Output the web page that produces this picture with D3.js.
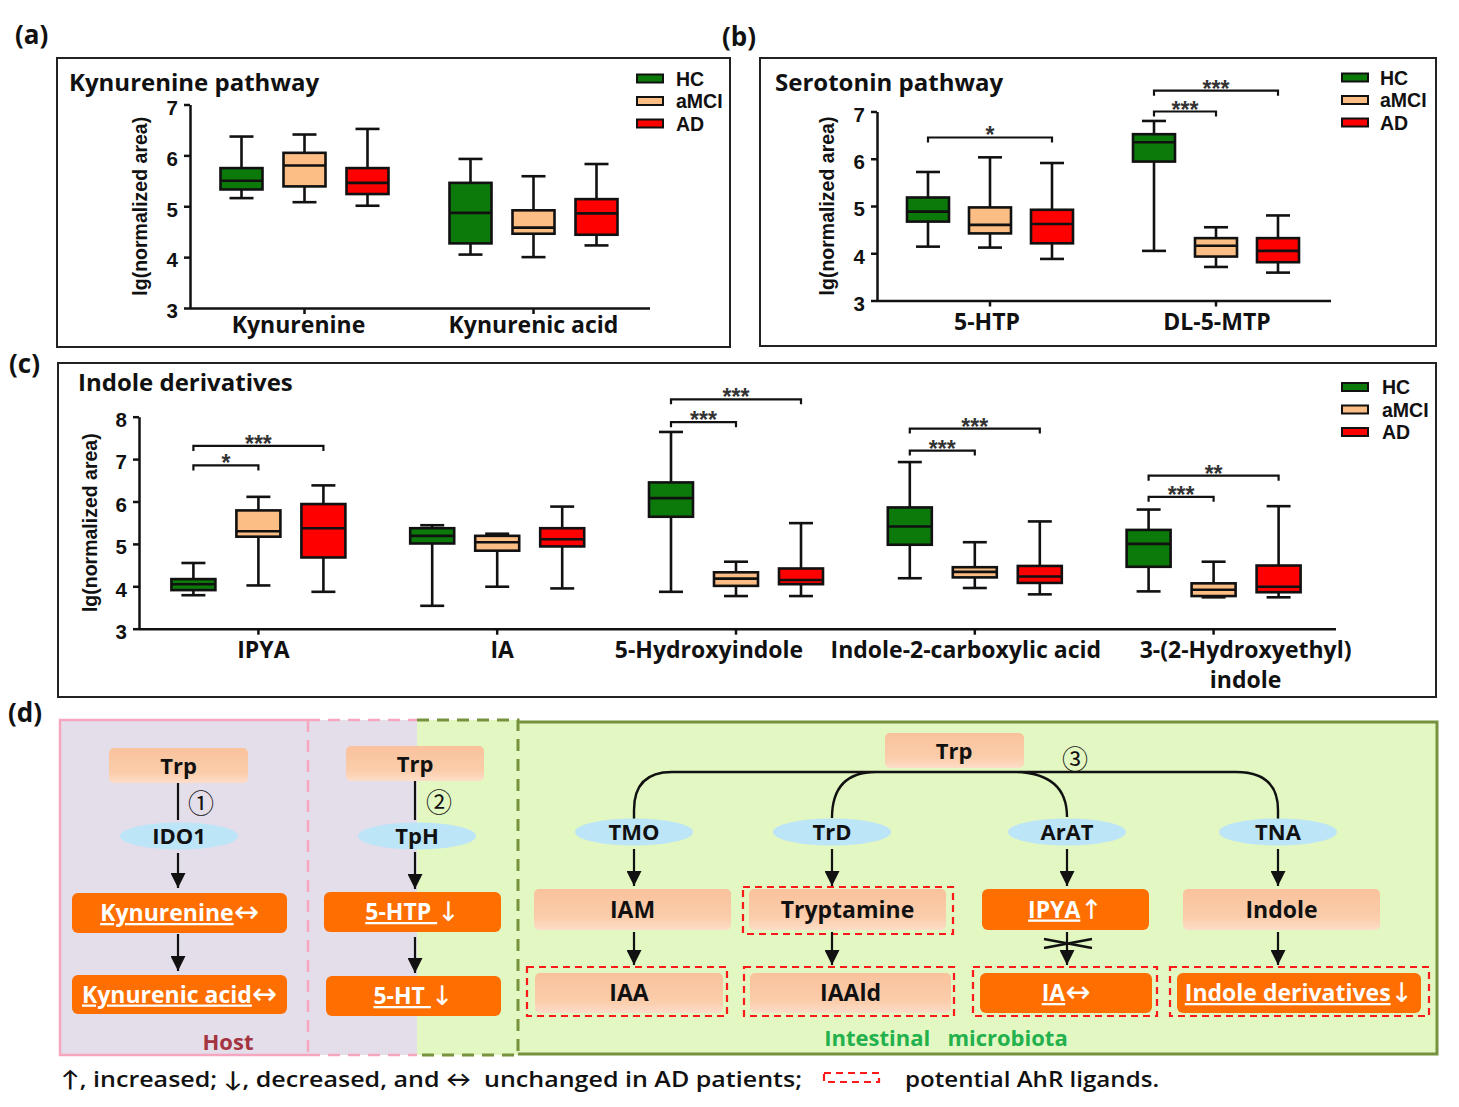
<!DOCTYPE html>
<html><head><meta charset="utf-8">
<script src="https://cdn.jsdelivr.net/npm/d3@7"></script>
<style>
body{margin:0;background:#fff;}
svg{display:block;background:#fff;}
</style></head><body>
<svg id="chart" width="1459" height="1107"></svg>
<script>
// ---------------- DATA ----------------
const groups = ["HC", "aMCI", "AD"];
// each entry: [min, Q1, median, Q3, max] of lg(normalized area)
const kynCategories = ["Kynurenine", "Kynurenic acid"];
const kynTicks = [3, 4, 5, 6, 7];
const kynHC   = [[5.16, 5.33, 5.50, 5.75, 6.37], [4.05, 4.27, 4.87, 5.46, 5.93]];
const kynAMCI = [[5.08, 5.39, 5.80, 6.05, 6.41], [4.00, 4.46, 4.58, 4.92, 5.59]];
const kynAD   = [[5.01, 5.24, 5.46, 5.75, 6.52], [4.23, 4.44, 4.86, 5.14, 5.83]];
const kynSig  = [];

const serCategories = ["5-HTP", "DL-5-MTP"];
const serTicks = [3, 4, 5, 6, 7];
const serHC   = [[4.14, 4.67, 4.88, 5.18, 5.72], [4.05, 5.94, 6.35, 6.52, 6.80]];
const serAMCI = [[4.12, 4.42, 4.60, 4.97, 6.03], [3.71, 3.93, 4.16, 4.32, 4.55]];
const serAD   = [[3.88, 4.21, 4.62, 4.92, 5.91], [3.59, 3.81, 4.05, 4.32, 4.80]];
const serSig  = [
  ["5-HTP", "HC", "AD", 6.45, "*"],
  ["DL-5-MTP", "HC", "aMCI", 7.00, "***"],
  ["DL-5-MTP", "HC", "AD", 7.44, "***"]
];

const indCategories = ["IPYA", "IA", "5-Hydroxyindole", "Indole-2-carboxylic acid", "3-(2-Hydroxyethyl) indole"];
const indTickLabels = [["IPYA"], ["IA"], ["5-Hydroxyindole"], ["Indole-2-carboxylic acid"], ["3-(2-Hydroxyethyl)", "indole"]];
const indTicks = [3, 4, 5, 6, 7, 8];
const indHC   = [[3.79, 3.91, 4.05, 4.17, 4.55], [3.54, 5.01, 5.19, 5.37, 5.44], [3.87, 5.64, 6.08, 6.45, 7.64], [4.19, 4.98, 5.41, 5.86, 6.93], [3.88, 4.46, 5.00, 5.33, 5.81]];
const indAMCI = [[4.02, 5.17, 5.30, 5.79, 6.11], [3.99, 4.84, 5.04, 5.19, 5.24], [3.77, 4.01, 4.18, 4.33, 4.58], [3.96, 4.21, 4.34, 4.45, 5.04], [3.74, 3.77, 3.92, 4.07, 4.58]];
const indAD   = [[3.87, 4.68, 5.37, 5.94, 6.38], [3.95, 4.94, 5.11, 5.37, 5.88], [3.77, 4.05, 4.15, 4.42, 5.49], [3.81, 4.08, 4.23, 4.48, 5.53], [3.74, 3.86, 3.99, 4.49, 5.89]];
const indSig  = [
  ["IPYA", "HC", "aMCI", 6.85, "*"],
  ["IPYA", "HC", "AD", 7.31, "***"],
  ["5-Hydroxyindole", "HC", "aMCI", 7.87, "***"],
  ["5-Hydroxyindole", "HC", "AD", 8.41, "***"],
  ["Indole-2-carboxylic acid", "HC", "aMCI", 7.20, "***"],
  ["Indole-2-carboxylic acid", "HC", "AD", 7.72, "***"],
  ["3-(2-Hydroxyethyl) indole", "HC", "aMCI", 6.11, "***"],
  ["3-(2-Hydroxyethyl) indole", "HC", "AD", 6.61, "**"]
];

// pathway diagram (d)
const hostPathways = [["Trp", "IDO1", "Kynurenine", "↔", "Kynurenic acid", "↔", "①"],
                      ["Trp", "TpH", "5-HTP ", "↓", "5-HT ", "↓", "②"]];
const enzymes = ["TMO", "TrD", "ArAT", "TNA"];
const intermediates = ["IAM", "Tryptamine", "IPYA", "Indole"];
const intermediateChange = ["", "", "↑", ""];
const intermediateLigand = [false, true, false, false];
const products = ["IAA", "IAAld", "IA", "Indole derivatives"];
const productChange = ["", "", "↔", "↓"];
const productLigand = [true, true, true, true];
const captionLeft = "↑, increased; ↓, decreased, and ↔  unchanged in AD patients;";
const captionRight = "potential AhR ligands.";

// ---------------- STYLE ----------------
const groupColors = {HC: "#0B7A0B", aMCI: "#FDBE85", AD: "#FF0000"};
const SANS = "'Open Sans', Lato, sans-serif";
const ARIAL = "'Liberation Sans', Arial, sans-serif";
const ARROWF = "'DejaVu Sans', sans-serif";
const INK = "#111";

const svg = d3.select("#chart");
const defs = svg.append("defs");
const grad = defs.append("linearGradient").attr("id", "peach").attr("x1", 0).attr("y1", 0).attr("x2", 0).attr("y2", 1);
grad.append("stop").attr("offset", "0%").attr("stop-color", "#F9C29C");
grad.append("stop").attr("offset", "70%").attr("stop-color", "#FBCDAB");
grad.append("stop").attr("offset", "100%").attr("stop-color", "#FDDDC8");
defs.append("marker").attr("id", "ah").attr("viewBox", "0 0 10 10").attr("refX", 10).attr("refY", 5)
  .attr("markerWidth", 15).attr("markerHeight", 15).attr("markerUnits", "userSpaceOnUse")
  .attr("orient", "auto").attr("preserveAspectRatio", "none")
  .append("path").attr("d", "M0,0L10,5L0,10Z").attr("fill", INK);

function txt(x, y, s, size, opts = {}) {
  return svg.append("text").attr("x", x).attr("y", y).text(s)
    .attr("font-family", opts.family || SANS).attr("font-size", size)
    .attr("font-weight", opts.weight || "bold").attr("fill", opts.fill || INK)
    .attr("text-anchor", opts.anchor || "start");
}

// ---------------- BOX PANELS ----------------
function boxPanel(cfg) {
  const g = svg.append("g");
  g.append("rect").attr("x", cfg.frame[0]).attr("y", cfg.frame[1])
    .attr("width", cfg.frame[2] - cfg.frame[0]).attr("height", cfg.frame[3] - cfg.frame[1])
    .attr("fill", "none").attr("stroke", "#222").attr("stroke-width", 2);
  txt(cfg.titlePos[0], cfg.titlePos[1], cfg.title, 24);

  const y = d3.scaleLinear().domain(d3.extent(cfg.ticks)).range([cfg.yBottom, cfg.yTop]);
  const x = d3.scaleBand().domain(cfg.categories).range([cfg.xLeft, cfg.xRight]);
  const off = d3.scalePoint().domain(groups).range([-cfg.offset, cfg.offset]);
  const cx = (c, s) => x(c) + x.bandwidth() / 2 + off(s);

  const ya = g.append("g").attr("transform", `translate(${cfg.xLeft},0)`)
    .call(d3.axisLeft(y).tickValues(cfg.ticks).tickFormat(d3.format("d")).tickSize(6).tickSizeOuter(0).tickPadding(6));
  ya.select(".domain").attr("stroke", INK).attr("stroke-width", 2.5);
  ya.selectAll(".tick line").attr("stroke", INK).attr("stroke-width", 2.5);
  ya.selectAll(".tick text").attr("font-family", ARIAL).attr("font-weight", "bold")
    .attr("font-size", 20.5).attr("fill", INK).attr("dy", "0.48em");

  const xa = g.append("g").attr("transform", `translate(0,${cfg.yBottom})`)
    .call(d3.axisBottom(x).tickSize(6).tickSizeOuter(0).tickFormat(""));
  xa.select(".domain").attr("d", `M${cfg.xLeft},0.5H${cfg.axisEnd}`).attr("stroke", INK).attr("stroke-width", 2.5);
  xa.selectAll(".tick line").attr("stroke", INK).attr("stroke-width", 2.5);

  cfg.categories.forEach((c, i) => {
    const t = g.append("text").attr("text-anchor", "middle").attr("font-family", SANS)
      .attr("font-weight", "bold").attr("font-size", 23).attr("fill", INK);
    cfg.tickLabels[i].forEach((line, j) => {
      t.append("tspan").attr("x", x(c) + x.bandwidth() / 2 + cfg.labelShift[i])
        .attr("y", cfg.yBottom + cfg.labelDy + j * 30).text(line);
    });
  });

  g.append("text").attr("transform", `translate(${cfg.yTitleX},${(cfg.yTop + cfg.yBottom) / 2}) rotate(-90)`)
    .attr("text-anchor", "middle").attr("dominant-baseline", "central")
    .attr("font-family", ARIAL).attr("font-weight", "bold").attr("font-size", 19.5).attr("fill", INK)
    .text("lg(normalized area)");

  const half = cfg.boxW / 2, cap = 12;
  cfg.series.forEach((vals, si) => {
    const s = groups[si];
    cfg.categories.forEach((c, i) => {
      const [mn, q1, md, q3, mx] = vals[i];
      const xc = cx(c, s);
      const bg = g.append("g").attr("stroke", INK).attr("stroke-width", 2.6);
      bg.append("line").attr("x1", xc).attr("x2", xc).attr("y1", y(mn)).attr("y2", y(mx));
      bg.append("line").attr("x1", xc - cap).attr("x2", xc + cap).attr("y1", y(mx)).attr("y2", y(mx));
      bg.append("line").attr("x1", xc - cap).attr("x2", xc + cap).attr("y1", y(mn)).attr("y2", y(mn));
      bg.append("rect").attr("x", xc - half).attr("width", cfg.boxW).attr("y", y(q3))
        .attr("height", y(q1) - y(q3)).attr("fill", groupColors[s]);
      bg.append("line").attr("x1", xc - half).attr("x2", xc + half).attr("y1", y(md)).attr("y2", y(md));
    });
  });

  cfg.sig.forEach(([c, a, b, v, lab]) => {
    const x1 = cx(c, a), x2 = cx(c, b), yy = y(v);
    g.append("path").attr("d", `M${x1},${yy + 5}V${yy}H${x2}V${yy + 5}`)
      .attr("fill", "none").attr("stroke", INK).attr("stroke-width", 2.2);
    g.append("text").attr("x", (x1 + x2) / 2).attr("y", yy + 6).attr("text-anchor", "middle")
      .attr("font-family", ARIAL).attr("font-weight", "bold").attr("font-size", 23).attr("fill", "#333").text(lab);
  });

  groups.forEach((s, i) => {
    const cy = cfg.legend[1] + i * 22.5;
    g.append("rect").attr("x", cfg.legend[0]).attr("y", cy - 4).attr("width", 26).attr("height", 8)
      .attr("fill", groupColors[s]).attr("stroke", INK).attr("stroke-width", 2);
    g.append("text").attr("x", cfg.legend[2]).attr("y", cy + 7).attr("font-family", ARIAL)
      .attr("font-weight", "bold").attr("font-size", 19.5).attr("fill", INK).text(s);
  });
}

boxPanel({
  frame: [57, 58, 730, 347], title: "Kynurenine pathway", titlePos: [69, 91],
  categories: kynCategories, tickLabels: kynCategories.map(d => [d]), ticks: kynTicks,
  series: [kynHC, kynAMCI, kynAD], sig: kynSig, labelShift: [-6, 0],
  xLeft: 190, xRight: 648, axisEnd: 650, yTop: 104.5, yBottom: 308, offset: 63, boxW: 42,
  labelDy: 25, yTitleX: 140, legend: [637, 78.5, 676]
});
boxPanel({
  frame: [760, 58, 1436, 346], title: "Serotonin pathway", titlePos: [775, 91],
  categories: serCategories, tickLabels: serCategories.map(d => [d]), ticks: serTicks,
  series: [serHC, serAMCI, serAD], sig: serSig, labelShift: [-3, 1],
  xLeft: 877, xRight: 1329, axisEnd: 1331, yTop: 111.5, yBottom: 300.5, offset: 62, boxW: 42,
  labelDy: 29, yTitleX: 827, legend: [1342, 77.5, 1380]
});
boxPanel({
  frame: [58, 363, 1436, 697], title: "Indole derivatives", titlePos: [78, 391],
  categories: indCategories, tickLabels: indTickLabels, ticks: indTicks,
  series: [indHC, indAMCI, indAD], sig: indSig, labelShift: [5, 5, -27, -9, 32],
  xLeft: 139, xRight: 1333, axisEnd: 1336, yTop: 416.7, yBottom: 628.7, offset: 65, boxW: 44,
  labelDy: 29, yTitleX: 90, legend: [1342, 387, 1382]
});

// panel letters
txt(15, 44, "(a)", 26);
txt(722, 46, "(b)", 26);
txt(9, 373, "(c)", 26);
txt(8, 722, "(d)", 26);

// ---------------- PATHWAY DIAGRAM (d) ----------------
const LAV = "#E4DEEB", GRN = "#E2F7C2", PINK = "#F6A7BF", OLIVE = "#76923C", ORANGE = "#FF6E00";
svg.append("rect").attr("x", 60).attr("y", 720).attr("width", 357).attr("height", 335).attr("fill", LAV);
svg.append("rect").attr("x", 417).attr("y", 720).attr("width", 101).attr("height", 335).attr("fill", GRN);
svg.append("rect").attr("x", 518).attr("y", 722).attr("width", 919).attr("height", 332).attr("fill", GRN);
svg.append("path").attr("d", "M308,720H60V1055H308").attr("fill", "none").attr("stroke", PINK).attr("stroke-width", 2.5);
svg.append("path").attr("d", "M308,720V1055M308,720H417M308,1055H417").attr("fill", "none")
  .attr("stroke", PINK).attr("stroke-width", 2.5).attr("stroke-dasharray", "12,8");
svg.append("path").attr("d", "M417,720H518V1055H417").attr("fill", "none")
  .attr("stroke", OLIVE).attr("stroke-width", 3).attr("stroke-dasharray", "12,8");
svg.append("path").attr("d", "M518,722H1437V1054H518").attr("fill", "none").attr("stroke", OLIVE).attr("stroke-width", 3);

function peachBox(x0, y0, x1, y1) {
  svg.append("rect").attr("x", x0).attr("y", y0).attr("width", x1 - x0).attr("height", y1 - y0).attr("rx", 5).attr("fill", "url(#peach)");
}
function orangeBox(x0, y0, x1, y1) {
  svg.append("rect").attr("x", x0).attr("y", y0).attr("width", x1 - x0).attr("height", y1 - y0).attr("rx", 6).attr("fill", ORANGE);
}
function dashBox(x0, y0, x1, y1) {
  svg.append("rect").attr("x", x0).attr("y", y0).attr("width", x1 - x0).attr("height", y1 - y0)
    .attr("fill", "none").attr("stroke", "#FF1A1A").attr("stroke-width", 2.2).attr("stroke-dasharray", "7,5");
}
function enzyme(cx, cy, s) {
  svg.append("ellipse").attr("cx", cx).attr("cy", cy).attr("rx", 59).attr("ry", 13.5).attr("fill", "#BDE5F8");
  txt(cx, cy + 8, s, 22, {anchor: "middle"});
}
function arrow(x, y1, y2) {
  svg.append("line").attr("x1", x).attr("x2", x).attr("y1", y1).attr("y2", y2)
    .attr("stroke", INK).attr("stroke-width", 2.2).attr("marker-end", "url(#ah)");
}
function label(cx, cy, name, change, measured) {
  const t = svg.append("text").attr("x", cx).attr("y", cy + 8).attr("text-anchor", "middle")
    .attr("font-family", SANS).attr("font-weight", "bold").attr("font-size", 23)
    .attr("fill", measured ? "#fff" : INK).style("white-space", "pre");
  t.append("tspan").text(name).style("text-decoration", measured ? "underline" : "none");
  if (change) t.append("tspan").attr("font-family", ARROWF).attr("font-weight", "normal")
    .attr("font-size", change === "↔" ? 30 : 27).attr("dy", 1).text(change);
}
function circled(x, y, s) {
  svg.append("text").attr("x", x).attr("y", y).attr("text-anchor", "middle").attr("dominant-baseline", "central")
    .attr("font-family", "'Noto Sans CJK SC', 'DejaVu Sans', serif").attr("font-size", 26).attr("fill", INK).text(s);
}

// host columns
const hostCols = [
  {cx: 178, trp: [109, 748, 248, 783], ell: [179, 836], num: [201, 801], b1: [72, 893, 287, 933], b2: [72, 975, 287, 1014], a1: [853, 888], a2: [934, 971]},
  {cx: 415, trp: [346, 746, 484, 781], ell: [417, 836], num: [439, 800], b1: [324, 892, 501, 932], b2: [326, 976, 501, 1016], a1: [852, 889], a2: [937, 973]}
];
hostPathways.forEach((p, i) => {
  const L = hostCols[i];
  peachBox(...L.trp);
  txt((L.trp[0] + L.trp[2]) / 2, (L.trp[1] + L.trp[3]) / 2 + 8, p[0], 22, {anchor: "middle"});
  svg.append("line").attr("x1", L.cx).attr("x2", L.cx).attr("y1", L.trp[3]).attr("y2", 820).attr("stroke", INK).attr("stroke-width", 2.2);
  circled(L.num[0], L.num[1], p[6]);
  enzyme(L.ell[0], L.ell[1], p[1]);
  arrow(L.cx, L.a1[0], L.a1[1]);
  orangeBox(...L.b1);
  label((L.b1[0] + L.b1[2]) / 2, (L.b1[1] + L.b1[3]) / 2, p[2], p[3], true);
  arrow(L.cx, L.a2[0], L.a2[1]);
  orangeBox(...L.b2);
  label((L.b2[0] + L.b2[2]) / 2, (L.b2[1] + L.b2[3]) / 2, p[4], p[5], true);
});
txt(228, 1050, "Host", 22, {fill: "#A33440", anchor: "middle"});

// microbiota
peachBox(885, 733, 1024, 768);
txt(954, 759, "Trp", 22, {anchor: "middle"});
circled(1075, 757, "③");
svg.append("path").attr("d",
  "M672,772H1236 M672,772Q634,772 634,810V819 M1236,772Q1278,772 1278,810V819 M876,772Q832,772 832,818 M1012,772Q1067,772 1067,817")
  .attr("fill", "none").attr("stroke", INK).attr("stroke-width", 2.4);
const microX = [634, 832, 1067, 1278];
const midBox = [[534, 731], [749, 946], [982, 1149], [1183, 1380]];
const midDash = [null, [743, 887, 953, 934], null, null];
const botBox = [[535, 723], [750, 951], [980, 1152], [1177, 1421]];
const botDash = [[527, 727], [744, 954], [973, 1157], [1170, 1429]];
enzymes.forEach((e, i) => {
  enzyme(microX[i], 832, e);
  arrow(microX[i], 849, 886);
  const measuredMid = intermediateChange[i] !== "";
  if (measuredMid) orangeBox(midBox[i][0], 889, midBox[i][1], 930); else peachBox(midBox[i][0], 889, midBox[i][1], 930);
  if (intermediateLigand[i]) dashBox(...midDash[i]);
  label((midBox[i][0] + midBox[i][1]) / 2, 909.5, intermediates[i], intermediateChange[i], measuredMid);
  arrow(microX[i], 932, 965);
  const measuredBot = productChange[i] !== "";
  if (measuredBot) orangeBox(botBox[i][0], 973, botBox[i][1], 1013); else peachBox(botBox[i][0], 973, botBox[i][1], 1013);
  if (productLigand[i]) dashBox(botDash[i][0], 967, botDash[i][1], 1016);
  label((botBox[i][0] + botBox[i][1]) / 2, 993, products[i], productChange[i], measuredBot);
});
// blocked conversion mark on IPYA -> IA
svg.append("path").attr("d", "M1044,939L1092,948M1044,948L1092,939").attr("stroke", INK).attr("stroke-width", 2.5);
txt(946, 1046, "Intestinal   microbiota", 22, {fill: "#22B14C", anchor: "middle"}).style("white-space", "pre");

// caption
txt(61, 1087, captionLeft, 22, {weight: 600}).style("white-space", "pre").attr("textLength", 741).attr("lengthAdjust", "spacingAndGlyphs");
dashBox(824, 1073, 879, 1082);
txt(905, 1087, captionRight, 22, {weight: 600}).attr("textLength", 254).attr("lengthAdjust", "spacingAndGlyphs");
</script>
</body></html>
